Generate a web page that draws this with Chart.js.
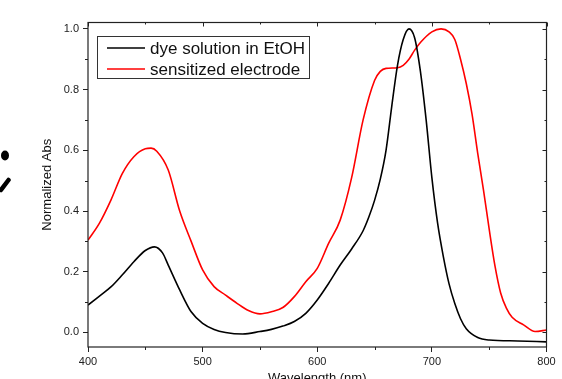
<!DOCTYPE html>
<html>
<head>
<meta charset="utf-8">
<script src="https://cdn.jsdelivr.net/npm/chart.js@4/dist/chart.umd.min.js"></script>
<style>
  html, body { margin: 0; padding: 0; background: #fff; overflow: hidden; }
  #wrap { width: 562px; height: 388px; }
</style>
</head>
<body>
<div id="wrap"><canvas id="absChart"></canvas></div>
<script>
// wavelength (nm) and normalized absorbance
const dyeWavelength = [400, 410, 420, 430, 440, 450, 458, 465, 470, 480, 490, 500, 510, 520, 535, 550, 560, 570, 580, 590, 600, 610, 620, 630, 640, 645, 650, 655, 660, 665, 670, 675, 680, 685, 690, 695, 700, 705, 710, 715, 720, 725, 730, 740, 750, 775, 800];
const dyeAbs = [0.09, 0.12, 0.15, 0.19, 0.233, 0.27, 0.282, 0.262, 0.222, 0.14, 0.068, 0.03, 0.01, 0.0, -0.005, 0.003, 0.01, 0.021, 0.036, 0.063, 0.107, 0.162, 0.222, 0.275, 0.335, 0.38, 0.435, 0.505, 0.60, 0.745, 0.88, 0.965, 1.0, 0.97, 0.86, 0.70, 0.51, 0.36, 0.25, 0.16, 0.095, 0.045, 0.012, -0.017, -0.025, -0.028, -0.031];

const electrodeWavelength = [400, 410, 420, 430, 440, 450, 455, 460, 470, 480, 490, 500, 510, 520, 530, 540, 550, 560, 570, 580, 590, 600, 610, 620, 630, 640, 650, 655, 660, 670, 675, 680, 685, 690, 700, 708, 715, 720, 725, 730, 735, 740, 745, 750, 755, 760, 765, 770, 780, 790, 800];
const electrodeAbs = [0.304, 0.36, 0.436, 0.524, 0.579, 0.605, 0.607, 0.597, 0.535, 0.40, 0.30, 0.206, 0.151, 0.123, 0.096, 0.072, 0.061, 0.068, 0.082, 0.118, 0.167, 0.211, 0.294, 0.37, 0.51, 0.70, 0.83, 0.86, 0.87, 0.872, 0.88, 0.90, 0.93, 0.955, 0.99, 1.0, 0.99, 0.965, 0.90, 0.82, 0.72, 0.59, 0.47, 0.34, 0.22, 0.13, 0.08, 0.05, 0.025, 0.003, 0.008];

const seriesNames = ['dye solution in EtOH', 'sensitized electrode'];
const xTicks = [400, 500, 600, 700, 800];
const xMinor = [450, 550, 650, 750];
const yTicks = [0, 0.2, 0.4, 0.6, 0.8, 1.0];
const yMinor = [0.1, 0.3, 0.5, 0.7, 0.9];

const toPoints = (xs, ys) => xs.map((x, i) => ({ x: x, y: ys[i] }));
const FONT = "'Liberation Sans', Arial, sans-serif";
const AXIS = '#222';

// box around the plot, minor ticks and mirrored ticks on top/right
const framePlugin = {
    id: 'frame',
    afterDraw(chart) {
        const { ctx, chartArea: a, scales: { x, y } } = chart;
        ctx.save();
        ctx.strokeStyle = AXIS;
        ctx.lineWidth = 1.2;
        ctx.strokeRect(a.left, a.top, a.right - a.left, a.bottom - a.top);
        ctx.lineWidth = 1;
        ctx.beginPath();
        xTicks.forEach(v => {
            const p = Math.round(x.getPixelForValue(v)) + 0.5;
            ctx.moveTo(p, a.top); ctx.lineTo(p, a.top + 4);
        });
        xMinor.forEach(v => {
            const p = Math.round(x.getPixelForValue(v)) + 0.5;
            ctx.moveTo(p, a.bottom); ctx.lineTo(p, a.bottom + 3);
            ctx.moveTo(p, a.top); ctx.lineTo(p, a.top + 2);
        });
        yTicks.forEach(v => {
            const p = Math.round(y.getPixelForValue(v)) + 0.5;
            ctx.moveTo(a.right, p); ctx.lineTo(a.right - 4, p);
        });
        yMinor.forEach(v => {
            const p = Math.round(y.getPixelForValue(v)) + 0.5;
            ctx.moveTo(a.left, p); ctx.lineTo(a.left - 3, p);
            ctx.moveTo(a.right, p); ctx.lineTo(a.right - 2, p);
        });
        ctx.stroke();
        ctx.restore();
    }
};

// boxed legend in the upper left of the plot
const boxLegend = {
    id: 'boxLegend',
    afterDraw(chart) {
        const ctx = chart.ctx;
        ctx.save();
        ctx.fillStyle = '#fff';
        ctx.fillRect(97.5, 36.5, 212, 42);
        ctx.strokeStyle = '#333';
        ctx.lineWidth = 1;
        ctx.strokeRect(97.5, 36.5, 212, 42);
        ctx.font = '17px ' + FONT;
        ctx.textBaseline = 'middle';
        chart.data.datasets.forEach((ds, i) => {
            const yy = 48 + i * 21;
            ctx.strokeStyle = ds.borderColor;
            ctx.lineWidth = 1.5;
            ctx.beginPath();
            ctx.moveTo(107, yy); ctx.lineTo(145, yy);
            ctx.stroke();
            ctx.fillStyle = '#111';
            ctx.fillText(ds.label, 150, yy + 1);
        });
        ctx.restore();
    }
};

// cropped mark at the left edge of the figure
const edgeMark = {
    id: 'edgeMark',
    afterDraw(chart) {
        const ctx = chart.ctx;
        ctx.save();
        ctx.fillStyle = '#000';
        ctx.beginPath();
        ctx.ellipse(5, 155.5, 4, 5, 0, 0, Math.PI * 2);
        ctx.fill();
        ctx.strokeStyle = '#000';
        ctx.lineWidth = 4.5;
        ctx.lineCap = 'round';
        ctx.beginPath();
        ctx.moveTo(1, 190); ctx.lineTo(8.5, 180);
        ctx.stroke();
        ctx.restore();
    }
};

const ctx = document.getElementById('absChart');
new Chart(ctx, {
    type: 'line',
    data: {
        datasets: [{
            label: seriesNames[0],
            data: toPoints(dyeWavelength, dyeAbs),
            borderColor: '#000000',
            borderWidth: 1.6,
            pointRadius: 0,
            cubicInterpolationMode: 'monotone'
        }, {
            label: seriesNames[1],
            data: toPoints(electrodeWavelength, electrodeAbs),
            borderColor: '#ff0000',
            borderWidth: 1.6,
            pointRadius: 0,
            cubicInterpolationMode: 'monotone'
        }]
    },
    options: {
        responsive: true,
        maintainAspectRatio: false,
        animation: false,
        layout: { padding: { top: 22.5, right: 15.5, left: 0, bottom: 0 } },
        plugins: {
            legend: { display: false },
            tooltip: { enabled: false }
        },
        scales: {
            x: {
                type: 'linear',
                min: 400,
                max: 800,
                afterFit: s => { s.height = 41; },
                afterBuildTicks: s => { s.ticks = xTicks.map(v => ({ value: v })); },
                grid: { drawOnChartArea: false, drawTicks: true, tickLength: 5, color: AXIS },
                border: { display: false },
                ticks: { color: '#222', font: { family: FONT, size: 11 }, padding: 3, maxRotation: 0 },
                title: { display: true, text: 'Wavelength (nm)', color: '#111', font: { family: FONT, size: 13 }, padding: { top: 0, bottom: 2 } }
            },
            y: {
                min: -0.048,
                max: 1.021,
                afterFit: s => { s.width = 88; },
                afterBuildTicks: s => { s.ticks = yTicks.map(v => ({ value: v })); },
                grid: { drawOnChartArea: false, drawTicks: true, tickLength: 5, color: AXIS },
                border: { display: false },
                ticks: { color: '#222', font: { family: FONT, size: 11 }, padding: 4, callback: v => v.toFixed(1) },
                title: { display: true, text: 'Normalized Abs', color: '#111', font: { family: FONT, size: 13 }, padding: { top: 40, bottom: 0 } }
            }
        }
    },
    plugins: [framePlugin, boxLegend, edgeMark]
});
</script>
</body>
</html>
